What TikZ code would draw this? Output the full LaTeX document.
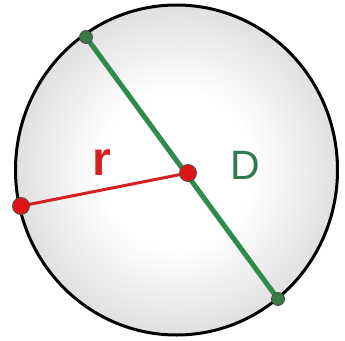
\documentclass[tikz,border=0pt]{standalone}
\usepackage{fontspec}
\setmainfont{Liberation Sans}
\definecolor{dred}{HTML}{DD1515}
\definecolor{lred}{HTML}{D42222}
\definecolor{lgreen}{HTML}{2E8B4A}
\definecolor{dgreen}{HTML}{3C7A45}
\definecolor{tgreen}{HTML}{2F7A50}
\pgfdeclareradialshading{ball}{\pgfpoint{0bp}{0bp}}{color(0bp)=(white); color(12bp)=(white); color(28bp)=(black!15); color(40bp)=(black!28); color(50bp)=(black!45)}
\begin{document}
\begin{tikzpicture}[x=1pt,y=-1pt,
  reddot/.style={circle,fill=dred,draw=black!70,line width=0.8pt,minimum size=17pt,inner sep=0pt},
  greendot/.style={circle,fill=dgreen,draw=black!70,line width=0.8pt,minimum size=13pt,inner sep=0pt}]
\useasboundingbox (0,0) rectangle (345,340);
\fill[white] (0,0) rectangle (345,340);
\shade[shading=ball] (176.5,170) ellipse [x radius=161, y radius=165];
\draw[black,line width=3pt] (176.5,170) ellipse [x radius=161, y radius=165];
\coordinate (ga) at (86,37);
\coordinate (gb) at (278,299);
\coordinate (c) at (188,173);
\coordinate (l) at (21,206);
\draw[lgreen,line width=5pt] (ga) -- (gb);
\draw[lred,line width=3pt] (l) -- (c);
\node[greendot] (A) at (ga) {};
\node[greendot] (B) at (gb) {};
\node[reddot] (C) at (c) {};
\node[reddot] (L) at (l) {};
\node[text=lred,font=\bfseries\fontsize{48}{48}\selectfont,inner sep=0pt] (r) at (102,163) {r};
\node[text=tgreen,font=\fontsize{41}{41}\selectfont,inner sep=0pt] (D) at (245,165) {D};
\end{tikzpicture}
\end{document}
